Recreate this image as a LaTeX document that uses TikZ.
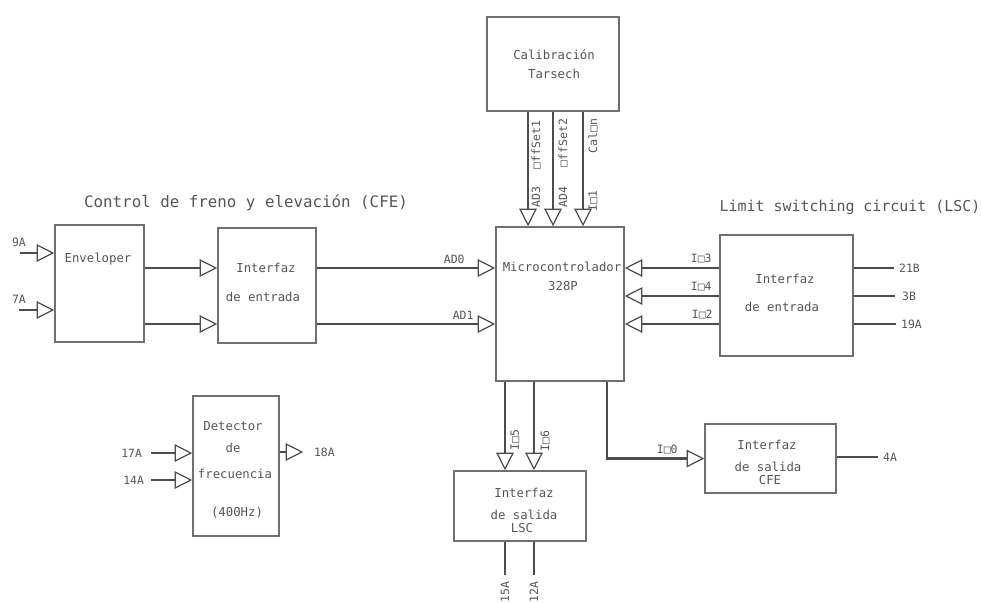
\documentclass[tikz,border=0pt]{standalone}
\usepackage{fontspec}
\newfontfamily\cadfont{DejaVu Sans Mono}
\usepackage{tikz}
\usetikzlibrary{arrows.meta, positioning}
\definecolor{linea}{HTML}{4D4D4D}
\definecolor{borde}{HTML}{707070}
\definecolor{texto}{HTML}{555555}

\begin{document}
\begin{tikzpicture}[x=0.02cm, y=-0.02cm,
                bloque/.style={rectangle, draw=borde, line width=0.9pt, inner sep=0pt},
                txt/.style={text=texto, font=\cadfont\fontsize{7}{8}\selectfont, inner sep=1pt},
                lbl/.style={text=texto, font=\cadfont\fontsize{6.5}{7}\selectfont, inner sep=1pt},
                vlbl/.style={lbl, rotate=90},
                titulo/.style={text=texto, font=\cadfont\fontsize{9}{10}\selectfont},
                sig/.style={draw=linea, line width=1.5pt, -{Triangle[open, length=10pt, width=10pt, line width=0.7pt]}},
                hilo/.style={draw=linea, line width=1.5pt}
            ]%
            \useasboundingbox (0,0) rectangle (982,602);
            %
            % Bloques
            \node[bloque, minimum width=2.64cm, minimum height=1.88cm] (cal) at (553,64) {};
            \node[bloque, minimum width=2.56cm, minimum height=3.08cm] (mcu) at (560,304) {};
            \node[bloque, minimum width=2.66cm, minimum height=2.42cm] (lscin) at (786.5,295.5) {};
            \node[bloque, minimum width=1.78cm, minimum height=2.34cm] (env) at (99.5,283.5) {};
            \node[bloque, minimum width=1.96cm, minimum height=2.30cm] (cfein) at (267,285.5) {};
            \node[bloque, minimum width=1.72cm, minimum height=2.80cm] (det) at (236,466) {};
            \node[bloque, minimum width=2.64cm, minimum height=1.40cm] (lscout) at (520,506) {};
            \node[bloque, minimum width=2.62cm, minimum height=1.38cm] (cfeout) at (770.5,458.5) {};
            %
            % Textos de los bloques
            \node[txt] (cal_a) at (554,55) {Calibración};
            \node[txt] (cal_b) at (554,74) {Tarsech};
            \node[txt] (mcu_a) at (562,267) {Microcontrolador};
            \node[txt] (mcu_b) at (563,286) {328P};
            \node[txt] (lscin_a) at (785,279) {Interfaz};
            \node[txt] (lscin_b) at (782,307) {de entrada};
            \node[txt] (env_a) at (98,259) {Enveloper};
            \node[txt] (cfein_a) at (266,268) {Interfaz};
            \node[txt] (cfein_b) at (263,297) {de entrada};
            \node[txt] (det_a) at (233,426) {Detector};
            \node[txt] (det_b) at (233,448) {de};
            \node[txt] (det_c) at (235,474) {frecuencia};
            \node[txt] (det_d) at (237,513) {(400Hz)};
            \node[txt] (lscout_a) at (524,493) {Interfaz};
            \node[txt] (lscout_b) at (524,515) {de salida};
            \node[txt] (lscout_c) at (522,528) {LSC};
            \node[txt] (cfeout_a) at (767,445) {Interfaz};
            \node[txt] (cfeout_b) at (768,467) {de salida};
            \node[txt] (cfeout_c) at (770,480) {CFE};
            %
            % Titulos
            \node[titulo] (t_cfe) at (246,203) {Control de freno y elevación (CFE)};
            \node[titulo, font=\cadfont\fontsize{8.5}{10}\selectfont] (t_lsc) at (850,207) {Limit switching circuit (LSC)};
            %
            % Entradas CFE
            \coordinate (in9A) at (20,253);
            \coordinate (in7A) at (19,310);
            \node[lbl] (l9A) at (19,242) {9A};
            \node[lbl] (l7A) at (19,299) {7A};
            \draw[sig] (in9A) -- (env.west |- in9A);
            \draw[sig] (in7A) -- (env.west |- in7A);
            \draw[sig] (env.east |- 0,268) -- (cfein.west |- 0,268);
            \draw[sig] (env.east |- 0,324) -- (cfein.west |- 0,324);
            \draw[sig] (cfein.east |- 0,268) -- node[lbl, pos=0.77, above=1pt] {AD0} (mcu.west |- 0,268);
            \draw[sig] (cfein.east |- 0,324) -- node[lbl, pos=0.82, above=1pt] {AD1} (mcu.west |- 0,324);
            %
            % Calibracion -> micro
            \draw[sig] (cal.south -| 528,0) -- (mcu.north -| 528,0);
            \draw[sig] (cal.south -| 553,0) -- (mcu.north -| 553,0);
            \draw[sig] (cal.south -| 583,0) -- (mcu.north -| 583,0);
            \node[vlbl] (l_ad3) at (536,197) {AD3};
            \node[vlbl] (l_off1) at (536,145) {□ffSet1};
            \node[vlbl] (l_ad4) at (563,197) {AD4};
            \node[vlbl] (l_off2) at (563,143) {□ffSet2};
            \node[vlbl] (l_io1) at (593,201) {I□1};
            \node[vlbl] (l_calon) at (593,136) {Cal□n};
            %
            % LSC entrada
            \draw[sig] (lscin.west |- 0,268) -- node[lbl, pos=0.19, above=1pt] {I□3} (mcu.east |- 0,268);
            \draw[sig] (lscin.west |- 0,296) -- node[lbl, pos=0.19, above=1pt] {I□4} (mcu.east |- 0,296);
            \draw[sig] (lscin.west |- 0,324) -- node[lbl, pos=0.18, above=1pt] {I□2} (mcu.east |- 0,324);
            \node[lbl, anchor=west] (o21B) at (897,268) {21B};
            \node[lbl, anchor=west] (o3B) at (900,296) {3B};
            \node[lbl, anchor=west] (o19A) at (899,324) {19A};
            \draw[hilo] (lscin.east |- o21B) -- ([xshift=-2pt]o21B.west);
            \draw[hilo] (lscin.east |- o3B) -- ([xshift=-3pt]o3B.west);
            \draw[hilo] (lscin.east |- o19A) -- ([xshift=-2pt]o19A.west);
            %
            % Detector de frecuencia
            \node[lbl, anchor=east] (i17A) at (144,453) {17A};
            \node[lbl, anchor=east] (i14A) at (146,480) {14A};
            \node[lbl, anchor=west] (o18A) at (312,452) {18A};
            \draw[sig] ([xshift=4pt]i17A.east) -- (det.west |- i17A);
            \draw[sig] ([xshift=3pt]i14A.east) -- (det.west |- i14A);
            \draw[sig] (det.east |- o18A) -- ([xshift=-5pt]o18A.west);
            %
            % Salidas LSC
            \draw[sig] (mcu.south -| 505,0) -- (lscout.north -| 505,0);
            \draw[sig] (mcu.south -| 534,0) -- (lscout.north -| 534,0);
            \node[vlbl] (l_io5) at (515,440) {I□5};
            \node[vlbl] (l_io6) at (545,441) {I□6};
            \node[vlbl, anchor=east] (o15A) at (505,580) {15A};
            \node[vlbl, anchor=east] (o12A) at (534,580) {12A};
            \draw[hilo] (lscout.south -| o15A) -- ([yshift=3pt]o15A.east);
            \draw[hilo] (lscout.south -| o12A) -- ([yshift=3pt]o12A.east);
            %
            % Salida CFE
            \draw[sig] (mcu.south -| 607,0) |- node[lbl, pos=0.81, above=1pt] {I□0} (cfeout.west);
            \node[lbl, anchor=west] (o4A) at (881,457) {4A};
            \draw[hilo] (cfeout.east |- o4A) -- ([xshift=-2pt]o4A.west);
        \end{tikzpicture}
\end{document}
